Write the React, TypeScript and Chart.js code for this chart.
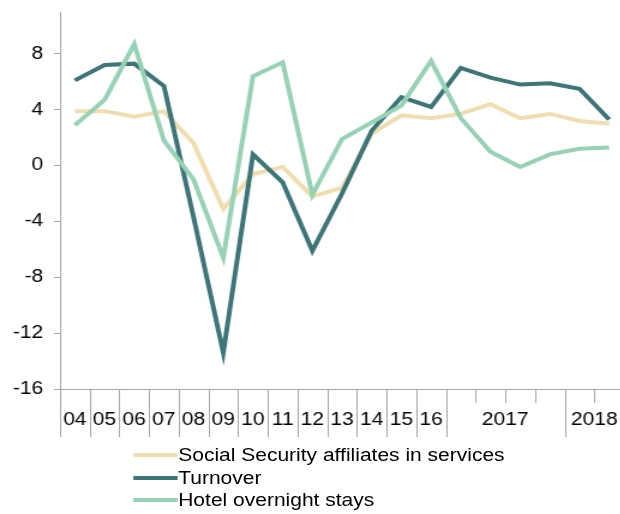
import React, { useEffect, useRef } from "react";
import { Chart, registerables } from "chart.js";

Chart.register(...registerables);

const categories = [
  "2004", "2005", "2006", "2007", "2008", "2009", "2010", "2011", "2012",
  "2013", "2014", "2015", "2016",
  "2017 Q1", "2017 Q2", "2017 Q3", "2017 Q4", "2018 Q1", "2018 Q2",
];

const socialSecurity = [3.9, 3.9, 3.5, 3.9, 1.6, -3.1, -0.6, -0.1, -2.2, -1.6, 2.3, 3.6, 3.4, 3.7, 4.4, 3.4, 3.7, 3.2, 3.0];
const turnover = [6.1, 7.2, 7.3, 5.7, -3.7, -13.4, 0.8, -1.2, -6.1, -2.0, 2.5, 4.9, 4.2, 7.0, 6.3, 5.8, 5.9, 5.5, 3.3];
const hotelStays = [2.9, 4.7, 8.7, 1.8, -1.0, -6.6, 6.4, 7.4, -2.1, 1.9, 3.1, 4.3, 7.5, 3.4, 1.0, -0.1, 0.8, 1.2, 1.3];

const seriesNames = ["Social Security affiliates in services", "Turnover", "Hotel overnight stays"];
const seriesColors = ["#F0DDB0", "#3E7579", "#97D2B5"];

const yTicks = [-16, -12, -8, -4, 0, 4, 8];
const yMin = -16;
const yMax = 11;

const STRETCH = 1.2;
const FONT = '"Liberation Sans", Arial, sans-serif';
const FONT_SIZE = 17.5;
const AXIS_COLOR = "#A6A6A6";

function groupKey(c: string) {
  return c.split(" ")[0];
}
function groupLabel(c: string) {
  return c.includes(" ") ? c.split(" ")[0] : c.slice(2);
}

const xGroupsPlugin = {
  id: "xGroups",
  afterDraw(chart: any) {
    const ctx = chart.ctx;
    const xs = chart.scales.x;
    const n = categories.length;
    const w = (xs.right - xs.left) / n;
    const bottom = chart.chartArea.bottom;
    ctx.save();
    ctx.strokeStyle = AXIS_COLOR;
    ctx.lineWidth = 1;
    for (let i = 0; i <= n; i++) {
      const px = Math.round(xs.getPixelForValue(i) - w / 2) + 0.5;
      let long = true;
      if (i > 0 && i < n && groupKey(categories[i - 1]) === groupKey(categories[i]) && categories[i].includes(" ")) {
        long = false;
      }
      ctx.beginPath();
      ctx.moveTo(px, bottom);
      ctx.lineTo(px, bottom + (long ? 48 : 14));
      ctx.stroke();
    }
    ctx.fillStyle = "#000";
    ctx.font = `${FONT_SIZE}px ${FONT}`;
    ctx.textAlign = "center";
    ctx.textBaseline = "middle";
    let start = 0;
    for (let i = 1; i <= n; i++) {
      if (i === n || groupKey(categories[i]) !== groupKey(categories[start])) {
        const left = xs.getPixelForValue(start) - w / 2;
        const right = xs.getPixelForValue(i - 1) + w / 2;
        ctx.fillText(groupLabel(categories[start]), (left + right) / 2, bottom + 31);
        start = i;
      }
    }
    ctx.restore();
  },
};

export default function App() {
  const ref = useRef<HTMLCanvasElement | null>(null);

  useEffect(() => {
    if (!ref.current) return;
    const seriesData = [socialSecurity, turnover, hotelStays];
    const chart = new Chart(ref.current, {
      type: "line",
      data: {
        labels: categories,
        datasets: seriesData.map((d, i) => ({
          label: seriesNames[i],
          data: d,
          borderColor: seriesColors[i],
          backgroundColor: seriesColors[i],
          borderWidth: 4,
          pointRadius: 0,
          tension: 0,
          fill: false,
          order: 3 - i,
        })),
      },
      options: {
        responsive: false,
        animation: false,
        devicePixelRatio: 1,
        layout: { padding: { top: 12, bottom: 125, left: 0, right: 0 } },
        plugins: { legend: { display: false }, tooltip: { enabled: false } },
        scales: {
          x: {
            type: "category",
            offset: true,
            grid: { display: false, drawTicks: false },
            border: { display: true, color: AXIS_COLOR, width: 1 },
            ticks: { display: false },
          },
          y: {
            min: yMin,
            max: yMax,
            afterBuildTicks: (scale: any) => {
              scale.ticks = yTicks.map((v) => ({ value: v }));
            },
            afterFit: (scale: any) => {
              scale.width = 50;
              scale.paddingTop = 0;
              scale.paddingBottom = 0;
            },
            grid: { drawOnChartArea: false, drawTicks: true, tickLength: 5, color: AXIS_COLOR },
            border: { display: true, color: AXIS_COLOR, width: 1 },
            ticks: {
              color: "#000",
              padding: 9,
              font: { family: FONT, size: FONT_SIZE },
            },
          },
        },
      },
      plugins: [xGroupsPlugin],
    });
    return () => chart.destroy();
  }, []);

  const rowYs = [455, 477.5, 500];

  return (
    <div style={{ position: "fixed", left: 0, top: 0, width: 620, height: 514, overflow: "hidden", background: "#fff" }}>
      <div
        style={{
          position: "absolute",
          left: 0,
          top: 0,
          width: 520,
          height: 514,
          transform: `scaleX(${STRETCH})`,
          transformOrigin: "0 0",
        }}
      >
        <canvas ref={ref} width={520} height={514} style={{ display: "block" }} />
        {seriesNames.map((name, i) => (
          <React.Fragment key={name}>
            <div
              style={{
                position: "absolute",
                left: 111,
                top: rowYs[i] - 2,
                width: 37,
                height: 4,
                background: seriesColors[i],
              }}
            />
            <div
              style={{
                position: "absolute",
                left: 148.5,
                top: rowYs[i] - 10,
                height: 20,
                lineHeight: "20px",
                fontFamily: FONT,
                fontSize: FONT_SIZE,
                color: "#000",
                whiteSpace: "nowrap",
              }}
            >
              {name}
            </div>
          </React.Fragment>
        ))}
      </div>
    </div>
  );
}
